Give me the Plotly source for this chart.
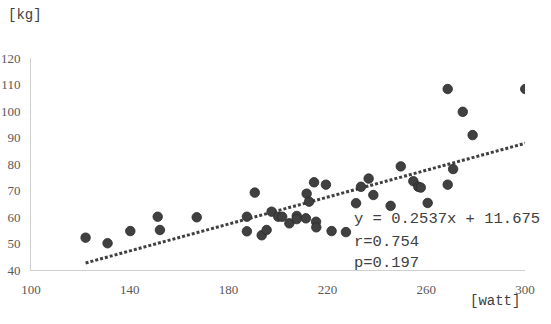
import plotly.graph_objects as go

# Data
power_watt = [122.1, 131.0, 140.2, 151.3, 152.2, 167.1, 187.4, 190.6, 187.4, 193.4,
              195.4, 197.4, 200.1, 201.7, 204.6, 207.6, 207.6, 211.3, 211.6, 212.6,
              214.6, 215.4, 215.5, 219.4, 221.7, 227.5, 231.6, 233.6, 236.7, 238.6,
              245.6, 249.7, 254.8, 256.8, 257.8, 260.6, 268.7, 270.9, 268.7, 274.8,
              278.8, 300.1]
weight_kg = [52.2, 50.1, 54.7, 60.1, 55.1, 59.9, 60.1, 69.2, 54.6, 53.1,
             55.1, 62.0, 60.1, 60.1, 57.6, 60.4, 59.2, 59.5, 68.8, 65.8,
             73.1, 58.2, 56.1, 72.2, 54.7, 54.3, 65.2, 71.4, 74.5, 68.3,
             64.2, 79.1, 73.5, 71.4, 71.1, 65.3, 72.2, 78.1, 108.3, 99.7,
             90.9, 108.3]

slope = 0.2537
intercept = 11.675
r_value = "0.754"
p_value = "0.197"

x_ticks = [100, 140, 180, 220, 260, 300]
y_ticks = [40, 50, 60, 70, 80, 90, 100, 110, 120]

trend_x = [min(power_watt), max(power_watt)]
trend_y = [slope * v + intercept for v in trend_x]

fig = go.Figure()
fig.add_trace(go.Scatter(
    x=trend_x, y=trend_y, mode="lines",
    line=dict(color="#404040", width=3, dash="3px,2px"),
    hoverinfo="skip", showlegend=False,
))
fig.add_trace(go.Scatter(
    x=power_watt, y=weight_kg, mode="markers",
    marker=dict(size=9.5, color="#404040", line=dict(color="#2a2a2a", width=0.8)),
    showlegend=False,
))

tick_font = dict(family="Liberation Serif", size=13, color="#595959")
fig.update_xaxes(range=[100, 300], tickvals=x_ticks, showgrid=False, zeroline=False,
                 showline=True, linecolor="#d0d0d0", linewidth=1, ticks="",
                 tickfont=tick_font, ticklabelstandoff=7, automargin=False)
fig.update_yaxes(range=[40, 120], tickvals=y_ticks, showgrid=False, zeroline=False,
                 showline=True, linecolor="#d0d0d0", linewidth=1, ticks="",
                 tickfont=tick_font, ticklabelstandoff=7, automargin=False)

ann_font = dict(family="Liberation Mono", size=15.5, color="#404040")
lines = [f"y = {slope}x + {intercept}", f"r={r_value}", f"p={p_value}"]
ys = [59.2, 50.6, 42.6]
for txt, yy in zip(lines, ys):
    fig.add_annotation(x=229.8, y=yy, xref="x", yref="y", text=txt, showarrow=False,
                       xanchor="left", yanchor="middle", font=ann_font)

unit_font = dict(family="Liberation Mono", size=14, color="#404040")
fig.add_annotation(x=-0.012, y=1.203, xref="paper", yref="paper", text="[kg]",
                   showarrow=False, xanchor="center", yanchor="middle", font=unit_font)
fig.add_annotation(x=0.939, y=-0.148, xref="paper", yref="paper", text="[watt]",
                   showarrow=False, xanchor="center", yanchor="middle", font=unit_font)

fig.update_layout(
    width=551, height=324,
    margin=dict(l=31, r=26, t=58, b=54, autoexpand=False),
    paper_bgcolor="white", plot_bgcolor="white",
)
fig.write_html("out.html", config={"displayModeBar": False},
               post_script="document.body.style.margin='0';")
